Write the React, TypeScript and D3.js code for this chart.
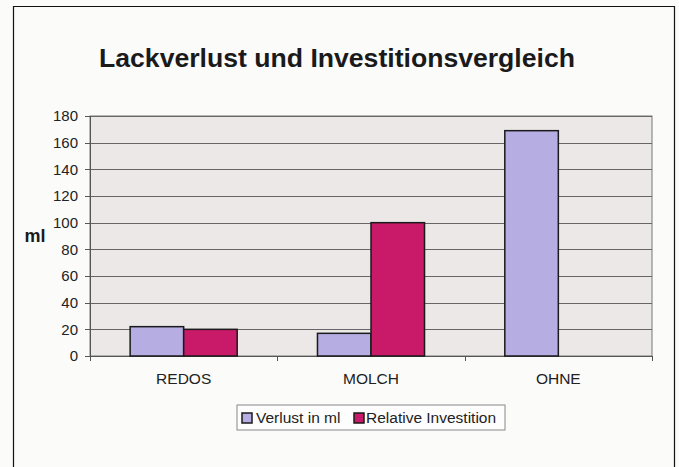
import React from "react";
import * as d3 from "d3";

const categories = ["REDOS", "MOLCH", "OHNE"];
const seriesNames = ["Verlust in ml", "Relative Investition"];
const verlust = [22, 17, 169];
const investition = [20, 100, 0];
const yTicks = [0, 20, 40, 60, 80, 100, 120, 140, 160, 180];
const colors = ["#b6aee2", "#c81a68"];

const W = 679;
const H = 467;
const plot = { left: 90, right: 652, top: 116, bottom: 356 };
const FONT = "'Liberation Sans', Arial, sans-serif";

export default function App() {
  const x0 = d3.scaleBand<string>().domain(categories).range([plot.left, plot.right]).padding(0);
  const x1 = d3
    .scaleBand<string>()
    .domain(seriesNames)
    .range([0, x0.bandwidth()])
    .paddingInner(0)
    .paddingOuter(0.75);
  const y = d3.scaleLinear().domain([0, 180]).range([plot.bottom, plot.top]);
  const values = [verlust, investition];
  const catBounds = [...categories.map((c) => x0(c) as number), plot.right];

  return (
    <svg
      width={W}
      height={H}
      style={{ position: "fixed", left: 0, top: 0, background: "#fbfbfa" }}
      fontFamily={FONT}
    >
      <rect x={0} y={0} width={W} height={H} fill="#fbfbfa" />
      {/* outer frame */}
      <path d={`M13.5,${H} V6.5 H674.5 V${H}`} fill="none" stroke="#111" strokeWidth={1.2} />
      {/* title */}
      <text
        x={337}
        y={67}
        textAnchor="middle"
        fontSize={25}
        fontWeight="bold"
        fill="#1a1a1a"
        textLength={476}
        lengthAdjust="spacingAndGlyphs"
      >
        Lackverlust und Investitionsvergleich
      </text>
      {/* plot background */}
      <rect
        x={plot.left}
        y={plot.top}
        width={plot.right - plot.left}
        height={plot.bottom - plot.top}
        fill="#ece8e8"
        stroke="#777"
        strokeWidth={1}
      />
      {/* gridlines */}
      {yTicks.map((t) => (
        <line
          key={"g" + t}
          x1={plot.left}
          x2={plot.right}
          y1={Math.round(y(t)) + 0.5}
          y2={Math.round(y(t)) + 0.5}
          stroke="#666"
          strokeWidth={1}
        />
      ))}
      {/* y axis */}
      <line x1={plot.left + 0.5} x2={plot.left + 0.5} y1={plot.top} y2={plot.bottom + 5} stroke="#555" />
      {yTicks.map((t) => (
        <g key={"t" + t}>
          <line
            x1={plot.left - 5}
            x2={plot.left}
            y1={Math.round(y(t)) + 0.5}
            y2={Math.round(y(t)) + 0.5}
            stroke="#555"
          />
          <text x={78} y={y(t)} dy="0.35em" textAnchor="end" fontSize={15} fill="#222">
            {t}
          </text>
        </g>
      ))}
      <text x={35} y={242} textAnchor="middle" fontSize={18} fontWeight="bold" fill="#1a1a1a">
        ml
      </text>
      {/* x axis */}
      <line x1={plot.left} x2={plot.right} y1={plot.bottom + 0.5} y2={plot.bottom + 0.5} stroke="#555" />
      {catBounds.map((b, i) => (
        <line
          key={"xt" + i}
          x1={Math.round(b) + 0.5}
          x2={Math.round(b) + 0.5}
          y1={plot.bottom}
          y2={plot.bottom + 5}
          stroke="#555"
        />
      ))}
      {categories.map((c) => (
        <text
          key={"c" + c}
          x={(x0(c) as number) + x0.bandwidth() / 2}
          y={384}
          textAnchor="middle"
          fontSize={15.5}
          fill="#222"
        >
          {c}
        </text>
      ))}
      {/* bars */}
      {categories.map((c, ci) =>
        seriesNames.map((s, si) => {
          const v = values[si][ci];
          if (!v) return null;
          const bx = (x0(c) as number) + (x1(s) as number);
          return (
            <rect
              key={c + s}
              x={bx}
              y={y(v)}
              width={x1.bandwidth()}
              height={plot.bottom - y(v)}
              fill={colors[si]}
              stroke="#1a1a1a"
              strokeWidth={1.5}
            />
          );
        })
      )}
      {/* legend */}
      <rect x={237} y={405} width={268} height={25} fill="#fdfdfd" stroke="#888" strokeWidth={1} />
      <rect x={242} y={413} width={10} height={10} fill={colors[0]} stroke="#1a1a1a" strokeWidth={1.5} />
      <text x={256} y={423} fontSize={15.5} fill="#222">
        {seriesNames[0]}
      </text>
      <rect x={354} y={413} width={10} height={10} fill={colors[1]} stroke="#1a1a1a" strokeWidth={1.5} />
      <text x={366} y={423} fontSize={15.5} fill="#222">
        {seriesNames[1]}
      </text>
    </svg>
  );
}
